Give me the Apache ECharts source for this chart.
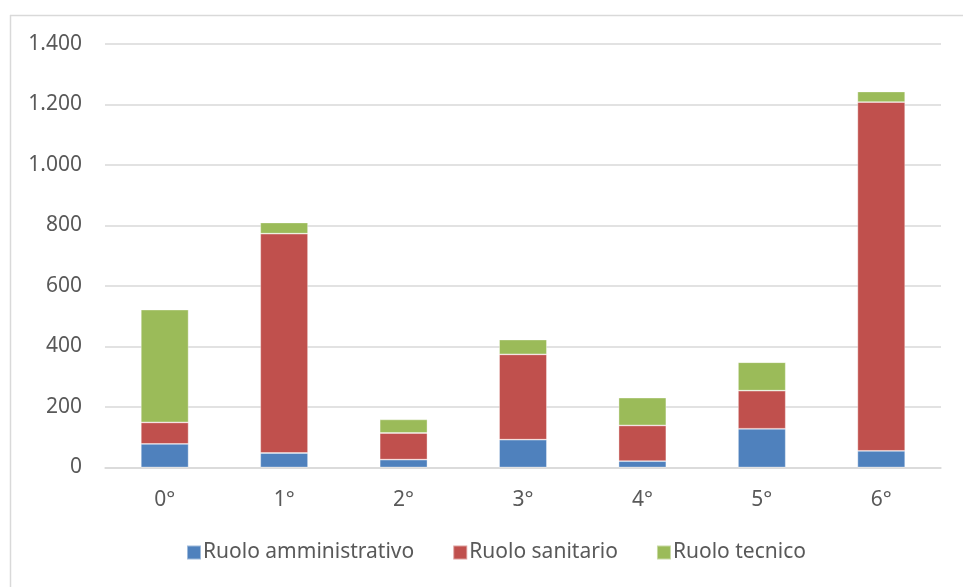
<!DOCTYPE html>
<html>
<head>
<meta charset="utf-8">
<script src="https://cdn.jsdelivr.net/npm/echarts@6/dist/echarts.min.js"></script>
<style>html,body{margin:0;padding:0;background:#fff;}#c{width:963px;height:587px;}</style>
</head>
<body>
<div id="c"></div>
<script>
const categories = ['0°', '1°', '2°', '3°', '4°', '5°', '6°'];
const seriesNames = ['Ruolo amministrativo', 'Ruolo sanitario', 'Ruolo tecnico'];
const amministrativo = [78, 48, 26, 92, 21, 128, 55];
const sanitario = [71, 725, 88, 282, 118, 126, 1153];
const tecnico = [373, 37, 45, 49, 92, 94, 35];
const yTicks = [0, 200, 400, 600, 800, 1000, 1200, 1400];
const colors = ['#4f81bd', '#c0504d', '#9bbb59'];

const font = '"Noto Sans", "Open Sans", sans-serif';
const chart = echarts.init(document.getElementById('c'), null, {renderer: 'canvas'});
const mk = (name, data, color) => ({
  name, type: 'bar', stack: 'tot', data, barCategoryGap: '60%',
  itemStyle: {color, borderColor: 'rgba(255,255,255,0.45)', borderWidth: 0.8},
  emphasis: {disabled: true}
});
chart.setOption({
  animation: false,
  backgroundColor: '#fff',
  textStyle: {fontFamily: font},
  grid: {left: 105, right: 22, top: 44, bottom: 119.5, containLabel: false},
  xAxis: {
    type: 'category', data: categories,
    axisLine: {lineStyle: {color: '#d9d9d9', width: 1.5}},
    axisTick: {show: false},
    axisLabel: {color: '#595959', fontSize: 21, fontFamily: font, margin: 22}
  },
  yAxis: {
    type: 'value', min: yTicks[0], max: yTicks[yTicks.length - 1], interval: 200,
    axisLine: {show: false}, axisTick: {show: false},
    splitLine: {lineStyle: {color: '#d9d9d9', width: 1.5}},
    axisLabel: {
      color: '#595959', fontSize: 21, fontFamily: font, margin: 23,
      formatter: v => v.toString().replace(/\B(?=(\d{3})+(?!\d))/g, '.')
    }
  },
  legend: {
    data: seriesNames, left: 186, top: 542, padding: 0,
    itemWidth: 14, itemHeight: 14, itemGap: 38,
    icon: 'rect',
    textStyle: {color: '#595959', fontSize: 21, fontFamily: font, padding: [0, 0, 0, -3]}
  },
  graphic: [
    {type: 'line', shape: {x1: 10, y1: 15.5, x2: 963, y2: 15.5}, style: {stroke: '#d9d9d9', lineWidth: 1.5}},
    {type: 'line', shape: {x1: 10.5, y1: 15, x2: 10.5, y2: 587}, style: {stroke: '#d9d9d9', lineWidth: 1.5}}
  ],
  series: [
    mk(seriesNames[0], amministrativo, colors[0]),
    mk(seriesNames[1], sanitario, colors[1]),
    mk(seriesNames[2], tecnico, colors[2])
  ]
});
</script>
</body>
</html>
